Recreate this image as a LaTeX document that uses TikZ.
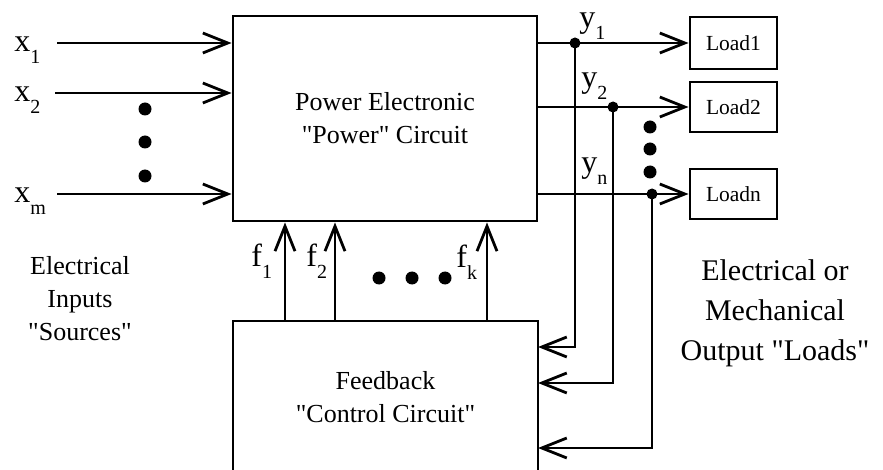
\documentclass[tikz,border=0pt]{standalone}
\usepackage{fontspec}
\setmainfont{Liberation Serif}
\usetikzlibrary{positioning, arrows.meta}

\newcommand{\lo}[1]{\raisebox{-12pt}{\fontsize{20}{20}\selectfont #1}}
\newcommand{\qq}{\textquotedbl}

\begin{document}
\begin{tikzpicture}[x=1pt, y=-1pt, line width=2.8pt,
    blk/.style={draw, align=center, inner sep=0pt, font=\fontsize{26}{33}\selectfont},
    loadbox/.style={draw, minimum width=87pt, minimum height=50pt, inner sep=0pt,
      font=\fontsize{21.5}{24}\selectfont},
    sig/.style={inner sep=0pt, anchor=base west, font=\fontsize{32}{32}\selectfont},
    note/.style={align=center, inner sep=0pt},
    arr/.style={-{Straight Barb[length=25pt, width=20pt]}}]

  \useasboundingbox (0,0) rectangle (883,470);

  % blocks
  \node[blk, minimum width=304pt, minimum height=205pt] (power) at (385,118.5)
    {Power Electronic\\\qq Power\qq{} Circuit};
  \node[blk, minimum width=305pt, minimum height=152pt] (fb) at (385.5,397)
    {Feedback\\\qq Control Circuit\qq};
  \node[loadbox, minimum height=52pt] (load1) at (733.5,43) {Load1};
  \node[loadbox] (load2) at (733.5,107) {Load2};
  \node[loadbox] (loadn) at (733.5,194) {Loadn};

  % inputs x
  \coordinate (in1) at (57,43);
  \coordinate (in2) at (55,93);
  \coordinate (inm) at (57,194);
  \node[sig] (x1) at (13,52) {x\lo{1}};
  \node[sig] (x2) at (13,102) {x\lo{2}};
  \node[sig] (xm) at (13,203) {x\lo{m}};
  \foreach \p in {in1,in2,inm}
    \draw[arr] (\p) -- (\p -| power.west);
  \foreach \y in {109,142,176}
    \fill (145,\y) circle (6.5pt);

  % outputs y
  \foreach \l in {load1,load2,loadn}
    \draw[arr] (\l.west -| power.east) -- (\l.west);
  \node[sig] (y1) at (578,28) {y\lo{1}};
  \node[sig] (y2) at (580,88) {y\lo{2}};
  \node[sig] (yn) at (580,173) {y\lo{n}};
  \foreach \y in {127,149,172}
    \fill (650,\y) circle (6.5pt);

  % taps back to the feedback block
  \coordinate (j1) at (575,43);
  \coordinate (j2) at (613,107);
  \coordinate (jn) at (652,194);
  \coordinate (fb1) at (538,347);
  \coordinate (fb2) at (538,383);
  \coordinate (fbn) at (538,448);
  \draw[arr] (j1) |- (fb1);
  \draw[arr] (j2) |- (fb2);
  \draw[arr] (jn) |- (fbn);
  \foreach \j in {j1,j2,jn}
    \fill (\j) circle (5.5pt);

  % feedback signals f
  \coordinate (f1) at (285,321);
  \coordinate (f2) at (335,321);
  \coordinate (fk) at (487,321);
  \foreach \f in {f1,f2,fk}
    \draw[arr] (\f) -- (\f |- power.south);
  \node[sig] (lf1) at (250,267) {f\lo{1}};
  \node[sig] (lf2) at (305,267) {f\lo{2}};
  \node[sig] (lfk) at (455,268) {f\lo{k}};
  \foreach \x in {379,412,445}
    \fill (\x,278) circle (6.5pt);

  % side notes
  \node[note, font=\fontsize{26}{33}\selectfont] (src) at (80,299)
    {Electrical\\Inputs\\\qq Sources\qq};
  \node[note, font=\fontsize{30}{40}\selectfont] (loads) at (775,313)
    {Electrical or\\Mechanical\\Output \qq Loads\qq};
\end{tikzpicture}
\end{document}
